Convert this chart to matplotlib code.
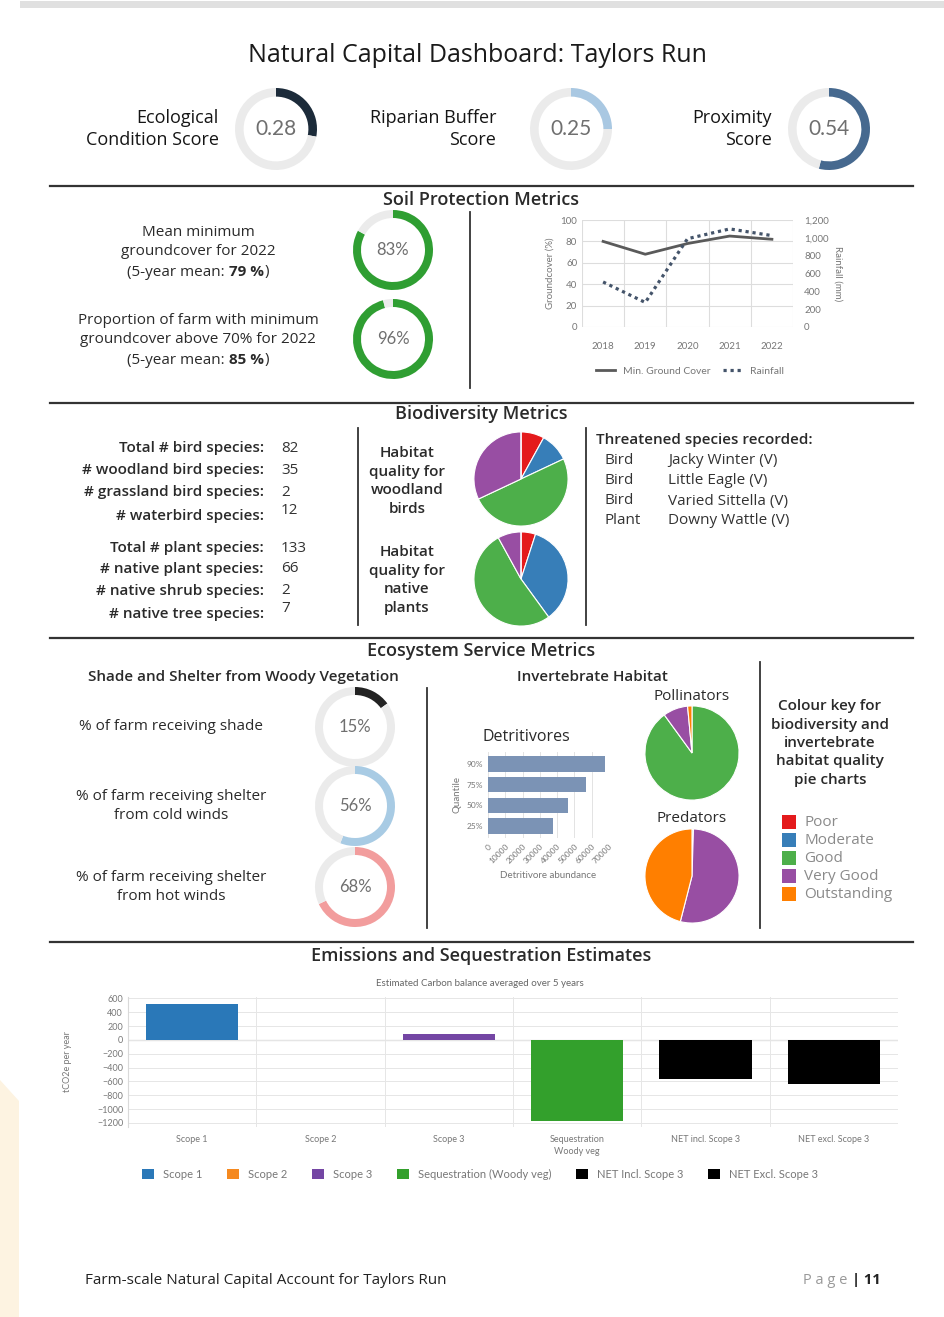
import matplotlib

matplotlib.use("Agg")
import matplotlib.pyplot as plt
from matplotlib.patches import Polygon, Rectangle
from matplotlib.ticker import FuncFormatter
import numpy as np

W, H = 945, 1317
FONT = ["Open Sans", "DejaVu Sans"]
CHART_FONT = ["Lato", "DejaVu Sans"]
plt.rcParams["font.family"] = FONT

# ---- data ----
score_labels = ["Ecological\nCondition Score", "Riparian Buffer\nScore", "Proximity\nScore"]
score_values = [0.28, 0.25, 0.54]
score_colors = ["#1c2b3a", "#a9c8e2", "#46698f"]

years = ["2018", "2019", "2020", "2021", "2022"]
min_groundcover = [80, 68, 78, 85, 82]
rainfall_mm = [505, 275, 990, 1100, 1025]
soil_values = [83, 96]

bird_labels = ["Total # bird species:", "# woodland bird species:",
               "# grassland bird species:", "# waterbird species:"]
bird_counts = [82, 35, 2, 12]
plant_labels = ["Total # plant species:", "# native plant species:",
                "# native shrub species:", "# native tree species:"]
plant_counts = [133, 66, 2, 7]

quality_classes = ["Poor", "Moderate", "Good", "Very Good", "Outstanding"]
quality_colors = ["#e41a1c", "#377eb8", "#4daf4a", "#984ea3", "#ff7f00"]
woodland_birds_quality = [8, 10, 50, 32, 0]
native_plants_quality = [5, 35, 52, 8, 0]
pollinators_quality = [0, 0, 90, 8.5, 1.5]
predators_quality = [0, 0, 0.5, 53.5, 46]

threatened_group = ["Bird", "Bird", "Bird", "Plant"]
threatened_species = ["Jacky Winter (V)", "Little Eagle (V)",
                      "Varied Sittella (V)", "Downy Wattle (V)"]

shade_labels = ["% of farm receiving shade",
                "% of farm receiving shelter\nfrom cold winds",
                "% of farm receiving shelter\nfrom hot winds"]
shade_values = [15, 56, 68]
shade_colors = ["#222222", "#a8cbe4", "#f29d9d"]

detritivore_quantiles = ["90%", "75%", "50%", "25%"]
detritivore_abundance = [67500, 56500, 46000, 37800]

emission_categories = ["Scope 1", "Scope 2", "Scope 3", "Sequestration\nWoody veg",
                       "NET incl. Scope 3", "NET excl. Scope 3"]
emission_legend = ["Scope 1", "Scope 2", "Scope 3", "Sequestration (Woody veg)",
                   "NET Incl. Scope 3", "NET Excl. Scope 3"]
emission_values = [525, 5, 85, -1170, -560, -645]
emission_colors = ["#2a78b8", "#f5891f", "#7446a4", "#33a02c", "#000000", "#000000"]

# ---- page ----
fig = plt.figure(figsize=(W / 100, H / 100), dpi=100)
bg = fig.add_axes([0, 0, 1, 1])
bg.set_xlim(0, W)
bg.set_ylim(H, 0)
bg.axis("off")


def pax(x0, y0, x1, y1):
    return fig.add_axes([x0 / W, 1 - y1 / H, (x1 - x0) / W, (y1 - y0) / H])


def txt(x, y, s, size=11, color="#2a2a2a", ha="center", va="center", **kw):
    return bg.text(x, y, s, fontsize=size, color=color, ha=ha, va=va, **kw)


def gauge(cx, cy, r, frac, color, label, size, width=0.21):
    ax = pax(cx - r, cy - r, cx + r, cy + r)
    ax.pie([frac, 1 - frac], colors=[color, "#ebebeb"], startangle=90,
           counterclock=False, wedgeprops=dict(width=width, linewidth=0))
    ax.set_xlim(-1, 1)
    ax.set_ylim(-1, 1)
    ax.text(0, 0, label, ha="center", va="center", fontsize=size, color="#6f6f6f",
            family=CHART_FONT)


def quality_pie(cx, cy, r, values):
    ax = pax(cx - r, cy - r, cx + r, cy + r)
    ax.pie(values, colors=quality_colors, startangle=90, counterclock=False,
           wedgeprops=dict(edgecolor="white", linewidth=0.8))
    ax.set_xlim(-1.02, 1.02)
    ax.set_ylim(-1.02, 1.02)


def mixed_line(xc, y, parts, size=11):
    r = fig.canvas.get_renderer()
    arts, widths = [], []
    for s, w in parts:
        t = txt(0, y, s, size=size, ha="left", weight=w)
        arts.append(t)
        widths.append(t.get_window_extent(r).width)
    x = xc - sum(widths) / 2
    for t, wd in zip(arts, widths):
        t.set_x(x)
        x += wd


# decorations
bg.add_patch(Rectangle((20, 1), W - 20, 7, color="#e0e0e0", lw=0))
bg.add_patch(Polygon([(0, 1080), (19, 1101), (19, H), (0, H)], color="#fdf3e1", lw=0))
for yy in [186, 403, 638, 942]:
    bg.plot([50, 913], [yy, yy], color="#333333", lw=1.6)
for xx, y0, y1 in [(470, 212, 388), (358, 428, 625), (586, 428, 625),
                   (427, 688, 928), (760, 662, 928)]:
    bg.plot([xx, xx], [y0, y1], color="#333333", lw=1.3)

txt(477, 55, "Natural Capital Dashboard: Taylors Run", size=18, color="#1a1a1a",
    weight="medium")

# header scores
for lab, v, c, cx, lx in zip(score_labels, score_values, score_colors,
                             [276, 571, 829], [219, 496, 772]):
    txt(lx, 129, lab, size=13, ha="right", multialignment="right", linespacing=1.3,
        color="#151515")
    gauge(cx, 129, 41, v, c, f"{v:.2f}", 15, width=0.21)

# ---- soil ----
txt(481, 200, "Soil Protection Metrics", size=13, weight="semibold")
txt(198, 242, "Mean minimum\ngroundcover for 2022", linespacing=1.35)
mixed_line(198, 272, [("(5-year mean: ", "normal"), ("79 %", "bold"), (")", "normal")])
txt(198, 330, "Proportion of farm with minimum\ngroundcover above 70% for 2022", linespacing=1.35)
mixed_line(198, 360, [("(5-year mean: ", "normal"), ("85 %", "bold"), (")", "normal")])
for v, cy in zip(soil_values, [250, 339]):
    gauge(393, cy, 40, v / 100, "#2f9e32", f"{v}%", 12, width=0.2)

ax = pax(582, 220, 793, 327)
x = np.arange(len(years))
ax.plot(x, min_groundcover, color="#5a5a5a", lw=2, label="Min. Ground Cover")
ax.set_ylim(0, 100)
ax.set_yticks(range(0, 101, 20))
ax.set_xlim(-0.5, len(years) - 0.5)
ax.set_xticks(x, years)
ax.set_xticks(np.arange(-0.5, len(years)), minor=True)
ax.grid(axis="y", color="#dddddd", lw=0.8)
ax.grid(axis="x", which="minor", color="#dddddd", lw=0.8)
ax.tick_params(which="both", length=0, labelsize=7, labelcolor="#777777")
ax.set_ylabel("Groundcover (%)", fontsize=7, color="#777777", family=CHART_FONT)
ax2 = ax.twinx()
ax2.plot(x, rainfall_mm, color="#44546a", lw=2.3, ls=(0, (1, 1.2)), label="Rainfall")
ax2.set_ylim(0, 1200)
ax2.set_yticks(range(0, 1201, 200))
ax2.yaxis.set_major_formatter(FuncFormatter(lambda v, p: f"{int(v):,}"))
ax2.tick_params(length=0, labelsize=7, labelcolor="#777777", pad=8)
ax2.set_ylabel("Rainfall (mm)", fontsize=7, color="#777777", rotation=270,
               labelpad=10, family=CHART_FONT)
for a in (ax, ax2):
    for s in a.spines.values():
        s.set_visible(False)
    for lbl in a.get_xticklabels() + a.get_yticklabels():
        lbl.set_family(CHART_FONT)
ax.tick_params(axis="x", pad=11)
h1, l1 = ax.get_legend_handles_labels()
h2, l2 = ax2.get_legend_handles_labels()
fig.legend(h1 + h2, l1 + l2, loc="center", bbox_to_anchor=(690 / W, 1 - 371 / H),
           ncol=2, frameon=False, labelcolor="#777777", handlelength=1.8,
           columnspacing=1.2, prop=dict(family=CHART_FONT, size=7.5))

# ---- biodiversity ----
txt(481, 414, "Biodiversity Metrics", size=13, weight="semibold")
for labels, counts, rows in [(bird_labels, bird_counts, [448, 470, 492, 516]),
                             (plant_labels, plant_counts, [548, 569, 591, 614])]:
    for i, (lab, n, yy) in enumerate(zip(labels, counts, rows)):
        txt(264, yy, lab, ha="right", weight="semibold")
        txt(281, yy - (6 if i == 3 else 0), str(n), ha="left", color="#333333")
txt(407, 481, "Habitat\nquality for\nwoodland\nbirds", linespacing=1.4, weight="semibold")
txt(407, 580, "Habitat\nquality for\nnative\nplants", linespacing=1.4, weight="semibold")
quality_pie(521, 479, 48, woodland_birds_quality)
quality_pie(521, 579, 48, native_plants_quality)
txt(596, 440, "Threatened species recorded:", ha="left", weight="semibold")
for i, (g, s) in enumerate(zip(threatened_group, threatened_species)):
    txt(605, 461 + 20 * i, g, ha="left", color="#333333")
    txt(668, 461 + 20 * i, s, ha="left", color="#333333")

# ---- ecosystem services ----
txt(481, 651, "Ecosystem Service Metrics", size=13, weight="semibold")
txt(243, 677, "Shade and Shelter from Woody Vegetation", weight="semibold")
txt(592, 677, "Invertebrate Habitat", weight="semibold")
for lab, v, c, cy in zip(shade_labels, shade_values, shade_colors, [727, 806, 887]):
    txt(171, cy, lab, linespacing=1.35)
    gauge(355, cy, 40, v / 100, c, f"{v}%", 12, width=0.2)

txt(526, 737, "Detritivores", size=11.5)
ax = pax(488, 752, 609, 838)
ax.barh(detritivore_quantiles, detritivore_abundance, color="#7b93b5", height=0.75)
ax.invert_yaxis()
ax.set_xlim(0, 70000)
ax.set_xticks(range(0, 70001, 10000))
ax.grid(axis="x", color="#e3e3e3", lw=0.7)
ax.set_axisbelow(True)
for s in ax.spines.values():
    s.set_visible(False)
ax.tick_params(length=0, labelsize=6, labelcolor="#777777")
for lbl in ax.get_xticklabels():
    lbl.set_rotation(45)
    lbl.set_ha("right")
    lbl.set_rotation_mode("anchor")
for lbl in ax.get_xticklabels() + ax.get_yticklabels():
    lbl.set_family(CHART_FONT)
ax.set_xlabel("Detritivore abundance", fontsize=7, color="#777777", family=CHART_FONT)
ax.set_ylabel("Quantile", fontsize=7, color="#777777", family=CHART_FONT)

txt(692, 697, "Pollinators")
quality_pie(692, 753, 48, pollinators_quality)
txt(692, 818, "Predators")
quality_pie(692, 876, 48, predators_quality)

txt(830, 743, "Colour key for\nbiodiversity and\ninvertebrate\nhabitat quality\npie charts",
    linespacing=1.4, weight="semibold")
for i, (q, c) in enumerate(zip(quality_classes, quality_colors)):
    yy = 822 + 18 * i
    bg.add_patch(Rectangle((782, yy - 7), 14, 14, color=c, lw=0))
    txt(804, yy, q, ha="left", color="#8a8a8a")

# ---- emissions ----
txt(481, 956, "Emissions and Sequestration Estimates", size=13, weight="semibold")
txt(480, 983, "Estimated Carbon balance averaged over 5 years", size=7,
    color="#666666", family=CHART_FONT)
ax = pax(128, 997, 898, 1127)
xe = np.arange(len(emission_values))
bars = ax.bar(xe, emission_values, width=0.72, color=emission_colors, zorder=2)
ax.set_xlim(-0.5, len(xe) - 0.5)
ax.set_ylim(-1260, 620)
ax.set_yticks(range(-1200, 601, 200))
ax.set_xticks(xe, emission_categories)
ax.set_xticks(np.arange(-0.5, len(xe)), minor=True)
ax.grid(axis="y", color="#e6e6e6", lw=0.7)
ax.grid(axis="x", which="minor", color="#e6e6e6", lw=0.7)
ax.axhline(0, color="#cccccc", lw=0.9, zorder=1)
for s in ax.spines.values():
    s.set_visible(False)
ax.spines["left"].set_visible(True)
ax.spines["left"].set_color("#d9d9d9")
ax.tick_params(which="both", length=0, labelsize=6.5, labelcolor="#777777")
ax.tick_params(axis="x", pad=6)
for lbl in ax.get_xticklabels() + ax.get_yticklabels():
    lbl.set_family(CHART_FONT)
    lbl.set_linespacing(1.4)
ax.set_ylabel("tCO2e per year", fontsize=6.5, color="#777777", family=CHART_FONT,
              labelpad=18)
ax.legend(bars, emission_legend, loc="center", bbox_to_anchor=(480 / W, 1 - 1174 / H),
          bbox_transform=fig.transFigure, ncol=6, frameon=False, handlelength=1.1,
          handleheight=1.0, columnspacing=2.2, labelcolor="#777777",
          prop=dict(family=CHART_FONT, size=8))

# ---- footer ----
txt(85, 1280, "Farm-scale Natural Capital Account for Taylors Run", ha="left", color="#222222")
txt(847, 1280, "P a g e", ha="right", color="#999999", size=10.5)
txt(852, 1280, "| 11", ha="left", color="#222222", size=10.5, weight="bold")

fig.savefig("out.png", dpi=100)
